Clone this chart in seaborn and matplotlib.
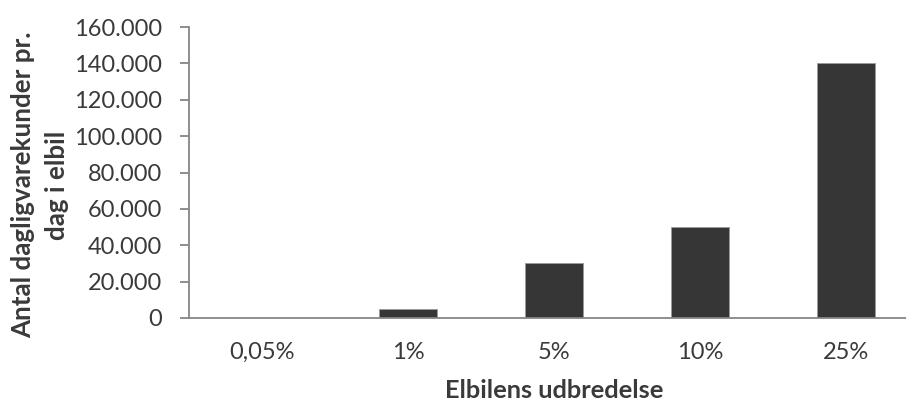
import matplotlib
matplotlib.use("Agg")
import matplotlib.pyplot as plt
import matplotlib.ticker as mticker
import seaborn as sns
import pandas as pd

categories = ["0,05%", "1%", "5%", "10%", "25%"]
customers = [0, 5000, 30000, 50000, 140000]
y_ticks = [0, 20000, 40000, 60000, 80000, 100000, 120000, 140000, 160000]

sns.set_style("white")
plt.rcParams["font.family"] = ["Lato", "DejaVu Sans"]

text_color = "#3a3a3a"
axis_color = "#868686"
bar_color = "#363636"

df = pd.DataFrame({"udbredelse": categories, "kunder": customers})

fig = plt.figure(figsize=(9.06, 4.03), dpi=100)
ax = fig.add_axes([189 / 906, 85 / 403, 730 / 906, 291 / 403])

sns.barplot(data=df, x="udbredelse", y="kunder", order=categories,
            color=bar_color, saturation=1, width=0.404,
            edgecolor="#9a9a9a", linewidth=0.6, ax=ax)

ax.set_xlim(-0.5, 4.5)
ax.set_ylim(0, 160000)
ax.set_yticks(y_ticks)
ax.yaxis.set_major_formatter(
    mticker.FuncFormatter(lambda v, _: f"{int(v):,}".replace(",", "."))
)

for side in ["top", "right"]:
    ax.spines[side].set_visible(False)
for side in ["left", "bottom"]:
    ax.spines[side].set_color(axis_color)
    ax.spines[side].set_linewidth(1.3)

ax.tick_params(axis="y", direction="out", length=6.5, width=1.3,
               color=axis_color, labelsize=17, labelcolor=text_color, pad=13, left=True)
ax.tick_params(axis="x", length=0, labelsize=17, labelcolor=text_color, pad=17)

ax.set_xlabel("Elbilens udbredelse", fontsize=18.3, fontweight="bold",
              color=text_color)
ax.xaxis.set_label_coords(0.5, -0.21)
ax.set_ylabel("Antal dagligvarekunder pr.\ndag i elbil", fontsize=18.7,
              fontweight="bold", color=text_color, linespacing=1.45)
ax.yaxis.set_label_coords(-0.165, 0.457)

fig.savefig("out.png", dpi=100)
